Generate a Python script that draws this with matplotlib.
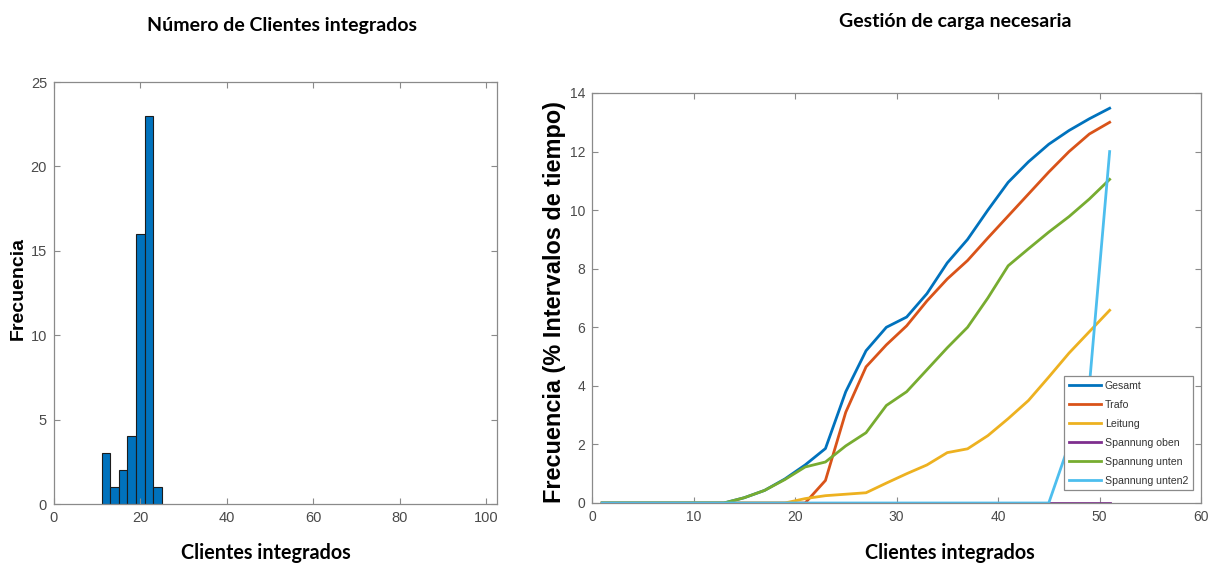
import matplotlib
matplotlib.use("Agg")
import matplotlib.pyplot as plt
import numpy as np

# ---------------- data ----------------
# Left: histogram of integrated clients
hist_edges = [11, 13, 15, 17, 19, 21, 23, 25]
hist_counts = [3, 1, 2, 4, 16, 23, 1]

# Right: required load management
clients = [1, 3, 5, 7, 9, 11, 13, 15, 17, 19, 21, 23, 25, 27, 29, 31, 33, 35, 37, 39, 41, 43, 45, 47, 49, 51]
gesamt = [0, 0, 0, 0, 0, 0, 0, 0.18, 0.43, 0.82, 1.3, 1.86, 3.8, 5.2, 6.0, 6.35, 7.15, 8.2, 9.0, 10.0,
          10.95, 11.65, 12.25, 12.72, 13.12, 13.48]
trafo = [0, 0, 0, 0, 0, 0, 0, 0, 0, 0, 0, 0.77, 3.1, 4.65, 5.4, 6.05, 6.9, 7.65, 8.28, 9.05,
         9.8, 10.55, 11.3, 12.0, 12.6, 13.0]
leitung = [0, 0, 0, 0, 0, 0, 0, 0, 0, 0, 0.15, 0.25, 0.3, 0.35, 0.68, 1.0, 1.3, 1.72, 1.85, 2.3,
           2.88, 3.5, 4.3, 5.12, 5.85, 6.58]
spannung_oben = [0] * 26
spannung_unten = [0, 0, 0, 0, 0, 0, 0, 0.18, 0.43, 0.8, 1.23, 1.4, 1.95, 2.4, 3.33, 3.8, 4.55, 5.3, 6.0, 7.0,
                  8.1, 8.68, 9.25, 9.78, 10.38, 11.05]
spannung_unten2 = [0] * 23 + [2, 4, 12]

series_names = ["Gesamt", "Trafo", "Leitung", "Spannung oben", "Spannung unten", "Spannung unten2"]
series_colors = ["#0072BD", "#D95319", "#EDB120", "#7E2F8E", "#77AC30", "#4DBEEE"]

left_xticks = [0, 20, 40, 60, 80, 100]
left_yticks = [0, 5, 10, 15, 20, 25]
right_xticks = [0, 10, 20, 30, 40, 50, 60]
right_yticks = [0, 2, 4, 6, 8, 10, 12, 14]

# ---------------- style ----------------
ARIAL = ["Liberation Sans", "DejaVu Sans"]
TITLEF = ["Lato", "Liberation Sans", "DejaVu Sans"]
SPINE = "#8a8a8a"
TICKLAB = "#4a4a4a"

W, H = 1209, 566
fig = plt.figure(figsize=(W / 100, H / 100), dpi=100)
fig.patch.set_facecolor("white")


def box(px_left, px_top, px_right, px_bottom):
    return [px_left / W, 1 - px_bottom / H, (px_right - px_left) / W, (px_bottom - px_top) / H]


def style_axes(ax, fs):
    for s in ax.spines.values():
        s.set_color(SPINE)
        s.set_linewidth(0.9)
    ax.tick_params(direction="in", length=4, width=0.8, color=SPINE,
                   top=True, right=True, labelcolor=TICKLAB, labelsize=fs, pad=5)
    for lab in ax.get_xticklabels() + ax.get_yticklabels():
        lab.set_family(ARIAL)


# ---- left: histogram ----
ax1 = fig.add_axes(box(54, 82, 497, 504))
ax1.bar(hist_edges[:-1], hist_counts, width=np.diff(hist_edges), align="edge",
        color="#0072BD", edgecolor="#1c1c1c", linewidth=0.8)
ax1.set_xlim(0, 102.5)
ax1.set_ylim(0, 25)
ax1.set_xticks(left_xticks)
ax1.set_yticks(left_yticks)
style_axes(ax1, 10.5)

# ---- right: lines ----
ax2 = fig.add_axes(box(592, 93, 1201, 503))
all_series = [gesamt, trafo, leitung, spannung_oben, spannung_unten, spannung_unten2]
for name, col, ys in zip(series_names, series_colors, all_series):
    ax2.plot(clients, ys, color=col, linewidth=2.0, label=name, solid_joinstyle="round")
ax2.set_xlim(0, 60)
ax2.set_ylim(0, 14)
ax2.set_xticks(right_xticks)
ax2.set_yticks(right_yticks)
style_axes(ax2, 10)

leg = ax2.legend(loc="lower right", bbox_to_anchor=(0.987, 0.031), fancybox=False,
                 framealpha=1, edgecolor=SPINE, prop={"family": ARIAL, "size": 7.6},
                 handlelength=3.0, handletextpad=0.4, labelspacing=0.85, borderpad=0.45,
                 borderaxespad=0)
leg.get_frame().set_linewidth(0.9)
for t in leg.get_texts():
    t.set_color("#333333")

# ---- texts ----
fig.text(282 / W, 1 - 25 / H, "Número de Clientes integrados", ha="center", va="center",
         fontsize=14, fontweight="bold", family=TITLEF)
fig.text(955 / W, 1 - 22 / H, "Gestión de carga necesaria", ha="center", va="center",
         fontsize=14, fontweight="bold", family=TITLEF)
fig.text(266 / W, 1 - 553 / H, "Clientes integrados", ha="center", va="center",
         fontsize=14.2, fontweight="bold", family=TITLEF)
fig.text(950 / W, 1 - 553 / H, "Clientes integrados", ha="center", va="center",
         fontsize=14.2, fontweight="bold", family=TITLEF)
fig.text(18.5 / W, 1 - 289 / H, "Frecuencia", ha="center", va="center", rotation=90,
         fontsize=14, fontweight="bold", family=ARIAL)
fig.text(554 / W, 1 - 302 / H, "Frecuencia (% Intervalos de tiempo)", ha="center", va="center",
         rotation=90, fontsize=16.9, fontweight="bold", family=ARIAL)

fig.savefig("out.png", dpi=100, facecolor="white")
